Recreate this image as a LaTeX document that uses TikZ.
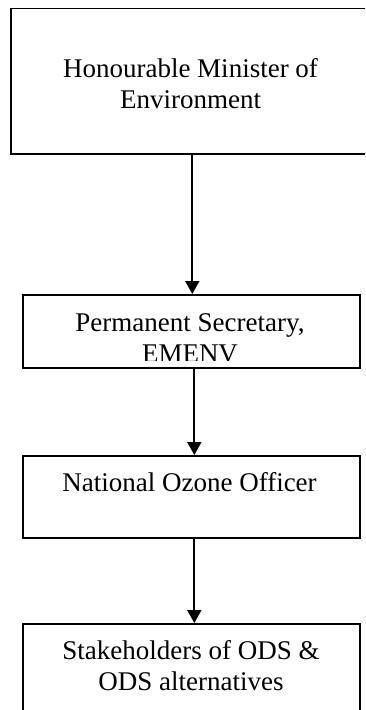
\documentclass[tikz,border=0pt]{standalone}
\usepackage{fontspec}
\setmainfont{Liberation Serif}
\usetikzlibrary{arrows.meta}
\begin{document}
\begin{tikzpicture}[x=1pt,y=-1pt,
  orgbox/.style={draw=black,line width=1.6pt,fill=none,inner sep=0pt,anchor=north west},
  lbl/.style={inner sep=0pt,align=center,anchor=base,font=\fontsize{27}{31}\selectfont},
  link/.style={line width=2pt,-{Triangle[width=14pt,length=13pt]}}]
\useasboundingbox (0,0) rectangle (365,710);
\clip (0,0) rectangle (365,710);
% boxes
\node[orgbox,minimum width=356pt,minimum height=145.5pt] (b1) at (10,7.5) {};
\node[orgbox,minimum width=337pt,minimum height=73pt] (b2) at (22,294) {};
\node[orgbox,minimum width=337pt,minimum height=82pt] (b3) at (22,455) {};
\node[orgbox,minimum width=337pt,minimum height=110pt] (b4) at (22,623) {};
% texts (anchor=base is the baseline of the last line)
\node[lbl] (t1) at (190.5,108.7) {Honourable Minister of\\Environment};
\begin{scope}
  \clip (22,294) rectangle (359,360);
  \node[lbl] (t2) at (190,362.5) {Permanent Secretary,\\EMENV};
\end{scope}
\node[lbl] (t3) at (189.5,491) {National Ozone Officer};
\node[lbl] (t4) at (191,690) {Stakeholders of ODS \&\\ODS alternatives};
% connectors
\draw[link] ([xshift=1pt]b2.north |- b1.south) -- ([xshift=1pt]b2.north);
\draw[link] ([xshift=3pt]b2.south) -- ([xshift=3pt]b3.north);
\draw[link] ([xshift=3pt]b3.south) -- ([xshift=3pt]b4.north);
\end{tikzpicture}
\end{document}
